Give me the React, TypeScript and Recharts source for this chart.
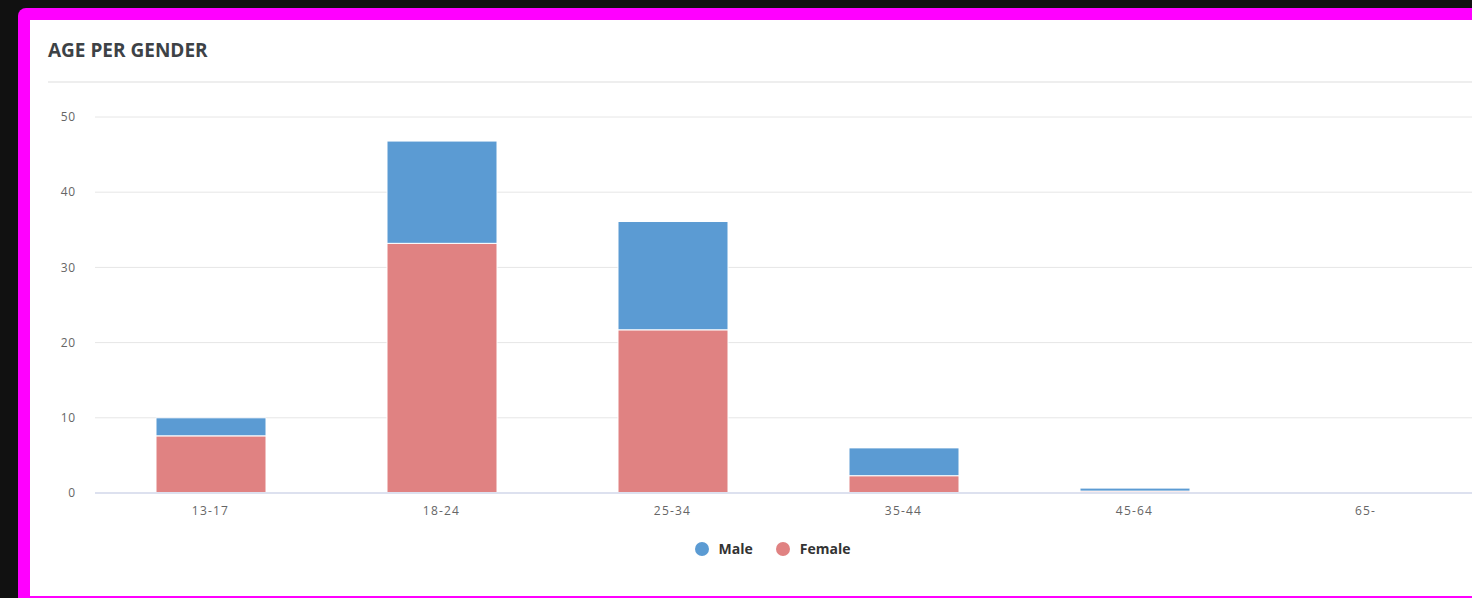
import React from 'react';
import { BarChart, Bar, XAxis, YAxis, CartesianGrid, Legend } from 'recharts';

const categories = ['13-17', '18-24', '25-34', '35-44', '45-64', '65-'];
const femaleValues = [7.6, 33.2, 21.7, 2.3, 0.25, 0];
const maleValues = [2.4, 13.6, 14.4, 3.7, 0.4, 0];
const yTicks = [0, 10, 20, 30, 40, 50];

const MALE = '#5b9bd3';
const FEMALE = '#e08282';

const data = categories.map((c, i) => ({ name: c, Female: femaleValues[i], Male: maleValues[i] }));

const LegendContent = () => {
  const items = [
    { label: 'Male', color: MALE },
    { label: 'Female', color: FEMALE },
  ];
  return (
    <div style={{ display: 'flex', justifyContent: 'center', alignItems: 'center', fontFamily: '"Open Sans", sans-serif' }}>
      {items.map((it, i) => (
        <div key={it.label} style={{ display: 'flex', alignItems: 'center', marginLeft: i === 0 ? 0 : 23 }}>
          <span style={{ display: 'inline-block', width: 14, height: 14, borderRadius: '50%', background: it.color, marginRight: 10 }} />
          <span style={{ fontSize: 14, fontWeight: 700, color: '#333' }}>{it.label}</span>
        </div>
      ))}
    </div>
  );
};

export default function App() {
  return (
    <div style={{ position: 'fixed', left: 0, top: 0, width: 1472, height: 598, overflow: 'hidden', background: '#111111' }}>
      <div style={{ position: 'absolute', left: 18, top: 8, width: 1700, height: 800, background: '#ff00ff', borderRadius: 8 }} />
      <div style={{ position: 'absolute', left: 30, top: 20, width: 1700, height: 576, background: '#ffffff' }} />
      <div style={{ position: 'absolute', left: 48, top: 37, fontFamily: '"Open Sans", sans-serif', fontWeight: 700, fontSize: 19, color: '#3d4246', lineHeight: '26px' }}>
        AGE PER GENDER
      </div>
      <div style={{ position: 'absolute', left: 48, top: 81, width: 1700, height: 2, background: '#eeeeee' }} />
      <div style={{ position: 'absolute', left: 30, top: 20 }}>
        <BarChart
          width={1451}
          height={560}
          data={data}
          margin={{ top: 97, right: 0, bottom: 38, left: 0 }}
          barSize={110}
        >
          <CartesianGrid vertical={false} stroke="#e6e6e6" />
          <XAxis
            dataKey="name"
            axisLine={{ stroke: '#dde1ef', strokeWidth: 2 }}
            tickLine={false}
            tickMargin={7}
            height={30}
            tick={{ fill: '#666', fontSize: 12, fontFamily: '"Open Sans", sans-serif', letterSpacing: 1.2 }}
          />
          <YAxis
            width={65}
            domain={[0, 50]}
            ticks={yTicks}
            axisLine={false}
            tickLine={false}
            tickMargin={13}
            tick={{ fill: '#666', fontSize: 12, fontFamily: '"Open Sans", sans-serif', letterSpacing: 0.8 }}
          />
          <Legend
            content={<LegendContent />}
            wrapperStyle={{ position: 'absolute', left: -30, top: 519, width: 1545 }}
          />
          <Bar dataKey="Female" stackId="a" fill={FEMALE} stroke="#ffffff" strokeWidth={1} isAnimationActive={false} />
          <Bar dataKey="Male" stackId="a" fill={MALE} stroke="#ffffff" strokeWidth={1} isAnimationActive={false} />
        </BarChart>
      </div>
    </div>
  );
}
